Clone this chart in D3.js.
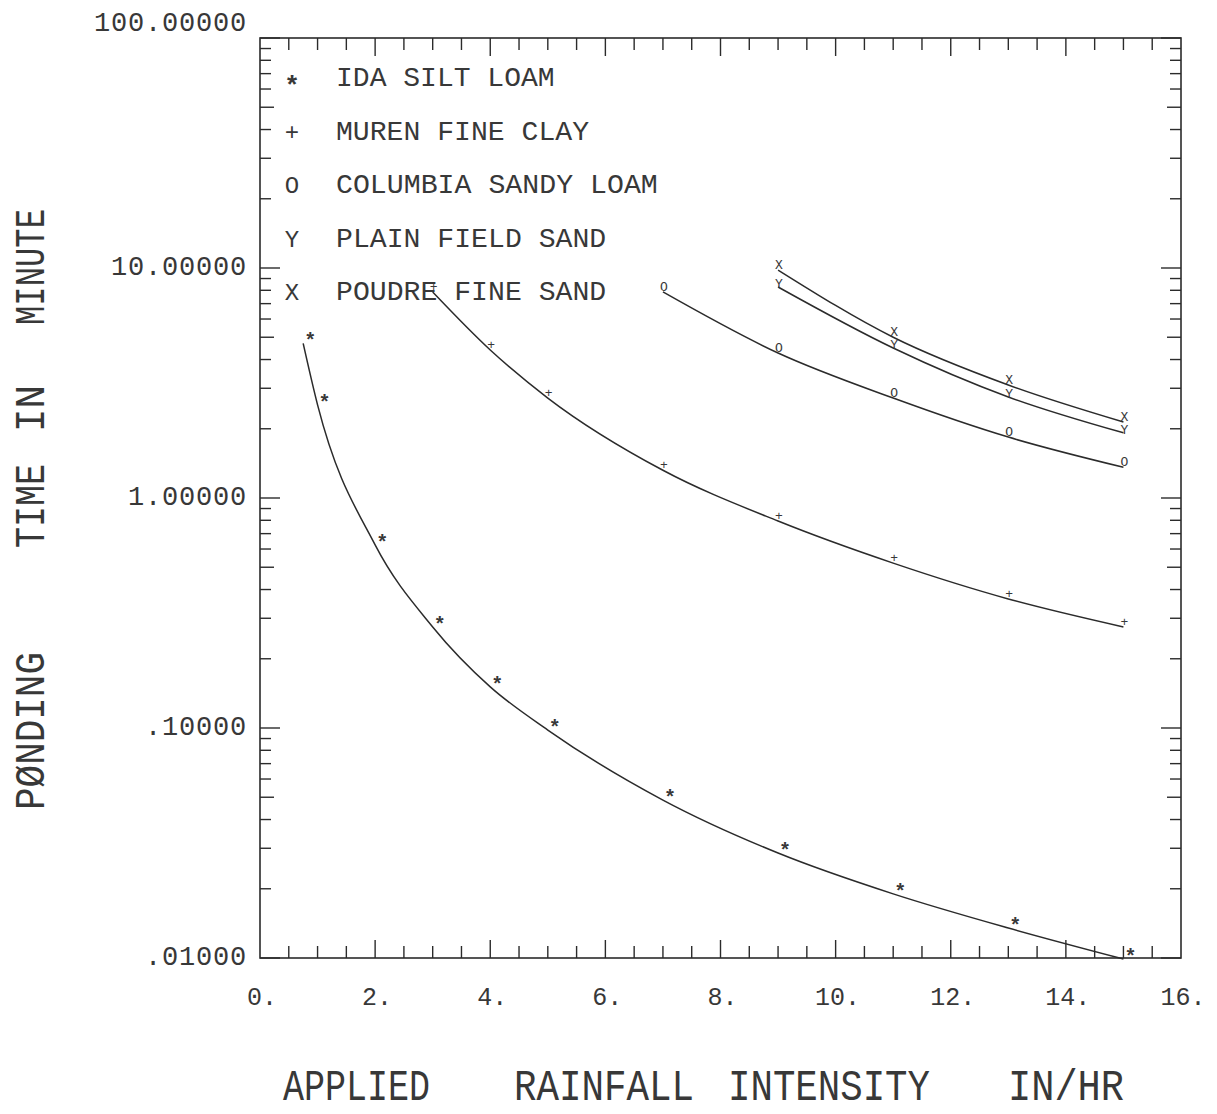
<!DOCTYPE html>
<html lang="en">
<head>
<meta charset="utf-8">
<title>Ponding Time</title>
<script src="https://d3js.org/d3.v7.min.js"></script>
<style>
  body { margin: 0; background: #fff; }
  text { font-family: "Liberation Mono", "DejaVu Sans Mono", monospace; fill: #383838; }
</style>
</head>
<body>
<script>
// data (intensity in/hr, ponding time min)
var xIda = [0.75, 1, 2, 3, 4, 5, 7, 9, 11, 13, 15];
var yIda = [4.7, 2.54, 0.625, 0.275, 0.151, 0.098, 0.0486, 0.0286, 0.0190, 0.0135, 0.0099];
var xMuren = [3, 4, 5, 7, 9, 11, 13, 15];
var yMuren = [7.86, 4.40, 2.72, 1.32, 0.794, 0.521, 0.364, 0.275];
var xColumbia = [7, 9, 11, 13, 15];
var yColumbia = [7.87, 4.27, 2.72, 1.84, 1.36];
var xPlain = [9, 11, 13, 15];
var yPlain = [8.27, 4.49, 2.75, 1.92];
var xPoudre = [9, 11, 13, 15];
var yPoudre = [9.8, 5.0, 3.10, 2.14];

var seriesNames = ["IDA SILT LOAM", "MUREN FINE CLAY", "COLUMBIA SANDY LOAM", "PLAIN FIELD SAND", "POUDRE FINE SAND"];
var seriesMarks = ["*", "+", "O", "Y", "X"];

var xTickValues = [0, 2, 4, 6, 8, 10, 12, 14, 16];
var xTickLabels = ["0.", "2.", "4.", "6.", "8.", "10.", "12.", "14.", "16."];
var yTickValues = [0.01, 0.1, 1, 10, 100];
var yTickLabels = [".01000", ".10000", "1.00000", "10.00000", "100.00000"];

var W = 1217, H = 1114;
var plot = {left: 260, right: 1181, top: 38, bottom: 958};

var svg = d3.select("body").append("svg")
    .attr("width", W).attr("height", H);

var x = d3.scaleLinear().domain([0, 16]).range([plot.left, plot.right]);
var y = d3.scaleLog().domain([0.01, 100]).range([plot.bottom, plot.top]);

var ink = "#2b2b2b";

// frame
svg.append("rect")
    .attr("x", plot.left).attr("y", plot.top)
    .attr("width", plot.right - plot.left).attr("height", plot.bottom - plot.top)
    .attr("fill", "none").attr("stroke", ink).attr("stroke-width", 1.6);

// x ticks every 0.5, bottom and top, pointing in
var xMinor = d3.range(0.5, 16, 0.5);
[plot.bottom, plot.top].forEach(function (edge, k) {
    var dir = k === 0 ? -1 : 1;
    svg.selectAll(null).data(xMinor).enter().append("line")
        .attr("x1", function (d) { return x(d); })
        .attr("x2", function (d) { return x(d); })
        .attr("y1", edge)
        .attr("y2", function (d) { return edge + dir * (d % 2 === 0 ? 18 : 12); })
        .attr("stroke", ink).attr("stroke-width", 1.4);
});

// y log ticks left and right
var yMinor = [];
[0.01, 0.1, 1, 10].forEach(function (dec) {
    for (var m = 1; m < 10; m++) yMinor.push(dec * m);
});
yMinor.push(100);
[plot.left, plot.right].forEach(function (edge, k) {
    var dir = k === 0 ? 1 : -1;
    svg.selectAll(null).data(yMinor).enter().append("line")
        .attr("x1", edge)
        .attr("x2", function (d) {
            var m = Math.round(d / Math.pow(10, Math.floor(Math.log10(d) + 1e-9)));
            return edge + dir * (m === 1 ? 20 : (m === 5 ? 14 : 11));
        })
        .attr("y1", function (d) { return y(d); })
        .attr("y2", function (d) { return y(d); })
        .attr("stroke", ink).attr("stroke-width", 1.4);
});

// y tick labels
svg.selectAll(null).data(yTickValues).enter().append("text")
    .attr("x", 247)
    .attr("y", function (d) { return d === 100 ? plot.top - 7 : y(d) + 7; })
    .attr("text-anchor", "end")
    .style("font-size", "27px")
    .attr("letter-spacing", 0.8)
    .text(function (d, i) { return yTickLabels[i]; });

// x tick labels
svg.selectAll(null).data(xTickValues).enter().append("text")
    .attr("x", function (d) { return x(d) + 2; })
    .attr("y", 1005)
    .attr("text-anchor", "middle")
    .style("font-size", "25px")
    .text(function (d, i) { return xTickLabels[i]; });

// axis titles
var xWords = [["APPLIED", 283, 147], ["RAINFALL", 514, 180], ["INTENSITY", 728, 202], ["IN/HR", 1008, 116]];
svg.selectAll(null).data(xWords).enter().append("text")
    .attr("x", function (d) { return d[1]; })
    .attr("y", 1100)
    .attr("textLength", function (d) { return d[2]; })
    .attr("lengthAdjust", "spacingAndGlyphs")
    .style("font-size", "44px")
    .text(function (d) { return d[0]; });

var yWords = [["P\u00D8NDING", 810, 158], ["TIME", 548, 84], ["IN", 432, 47], ["MINUTE", 325, 116]];
svg.selectAll(null).data(yWords).enter().append("text")
    .attr("transform", function (d) { return "translate(44," + d[1] + ") rotate(-90)"; })
    .attr("textLength", function (d) { return d[2]; })
    .attr("lengthAdjust", "spacingAndGlyphs")
    .style("font-size", "42px")
    .text(function (d) { return d[0]; });

// curves and markers
var xs = [xIda, xMuren, xColumbia, xPlain, xPoudre];
var ys = [yIda, yMuren, yColumbia, yPlain, yPoudre];
var line = d3.line()
    .x(function (d) { return x(d[0]); })
    .y(function (d) { return y(d[1]); })
    .curve(d3.curveMonotoneX);

xs.forEach(function (xv, s) {
    var pts = xv.map(function (v, i) { return [v, ys[s][i]]; });
    svg.append("path")
        .datum(pts)
        .attr("d", line)
        .attr("fill", "none")
        .attr("stroke", ink)
        .attr("stroke-width", 1.5);

    svg.selectAll(null).data(pts).enter().append("text")
        .attr("x", function (d) { return x(d[0]) + (s === 0 ? 1 : -3); })
        .attr("y", function (d) { return y(d[1]) + (s === 0 ? 4 : (s === 3 ? 1 : -1)); })
        .style("font-size", s === 0 ? "20px" : "13px")
        .style("font-weight", s === 0 ? "bold" : "normal")
        .text(seriesMarks[s]);
});

// legend
var legend = svg.selectAll(null).data(seriesNames).enter().append("g")
    .attr("transform", function (d, i) { return "translate(0," + (86 + i * 53.5) + ")"; });
legend.append("text")
    .attr("x", 292)
    .attr("y", function (d, i) { return i === 0 ? 8 : 0; })
    .attr("text-anchor", "middle")
    .style("font-size", function (d, i) { return i === 0 ? "26px" : "24px"; })
    .style("font-weight", function (d, i) { return i === 0 ? "bold" : "normal"; })
    .text(function (d, i) { return seriesMarks[i]; });
legend.append("text")
    .attr("x", 336)
    .attr("textLength", function (d) { return d.length * 17.2 - 5; })
    .attr("lengthAdjust", "spacingAndGlyphs")
    .style("font-size", "28px")
    .text(function (d) { return d; });
</script>
</body>
</html>
